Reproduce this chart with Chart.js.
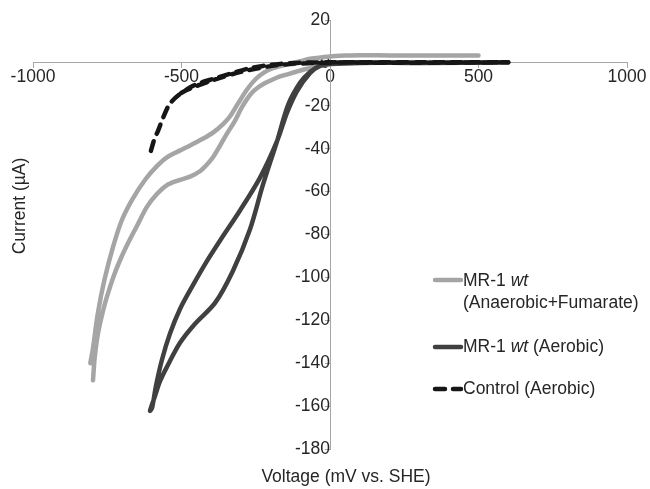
<!DOCTYPE html>
<html>
<head>
<meta charset="utf-8">
<script src="https://cdn.jsdelivr.net/npm/chart.js@4"></script>
<style>
  html, body { margin: 0; padding: 0; background: #fff; }
  canvas { display: block; }
</style>
</head>
<body>
<canvas id="chart" width="650" height="489"></canvas>
<script>
// MR-1 wt (Anaerobic+Fumarate): reduction branch, then (after a gap) return branch
const fumarateForwardV = [-798, -792, -781, -765, -751, -730, -707, -680, -650, -616, -582, -549, -515, -471, -438, -415, -394, -370, -347, -320, -300, -280, -260, -246, -220, -202, -168, -135, -91, -50, -10, 50, 100, 300, 480];
const fumarateForwardI = [-148, -137, -126, -116, -109, -100, -92, -84, -76, -67, -61, -57, -55, -53, -50.5, -47.5, -44, -38.5, -33, -27, -21.5, -17, -13.5, -11.8, -9.5, -8.3, -6.3, -5, -3.2, -2, -0.8, -0.1, 0.1, 0.2, 0.2];
const fumarateReturnV = [500, 400, 300, 200, 100, 50, 0, -67, -100, -135, -160, -192, -220, -250, -280, -310, -337, -360, -394, -430, -471, -500, -549, -582, -620, -663, -700, -731, -760, -782, -798, -807];
const fumarateReturnI = [3.5, 3.5, 3.5, 3.5, 3.6, 3.4, 3.0, 1.9, 0.8, -0.3, -1.2, -2.5, -4.3, -7.5, -12.5, -19, -25, -28.5, -32.5, -35.5, -38.5, -40.5, -44, -48, -54, -63, -73, -86, -101.5, -117, -133, -140];

// MR-1 wt (Aerobic): from +600 down the inner branch to the tip, back up the outer branch
const aerobicV = [600, 300, 17, -34, -67, -101, -141, -178, -226, -269, -327, -387, -455, -505, -549, -572, -589, -606, -599, -586, -566, -539, -505, -461, -418, -370, -303, -236, -178, -145, -111, -67, -34, 0, 100, 300, 600];
const aerobicI = [0.2, 0, 0, -1.4, -4.2, -9.3, -19.6, -36.4, -56.9, -77.4, -97, -111.9, -121.7, -130.5, -141.7, -148.3, -155.2, -162.2, -160.8, -150.6, -138.5, -126.3, -114.7, -103.5, -93.2, -82.8, -68.8, -53.6, -36.4, -23.3, -13.1, -4.7, -1.4, -0.5, 0, 0, 0.2];

// Control (Aerobic)
const controlV = [-603, -599, -590, -579, -562, -539, -505, -461, -430, -394, -337, -280, -226, -168, -111, -50, 0, 100, 200, 300, 400, 500, 600, 400, 200, 0, -111, -200, -300, -400, -480, -520];
const controlI = [-41, -39, -35, -31.7, -25.6, -19, -14.5, -10.7, -9, -7.5, -5.1, -2.8, -1.4, -0.5, 0, 0.2, 0.3, 0.3, 0.3, 0.3, 0.3, 0.3, 0.3, 0.1, 0.1, 0.1, -0.4, -1.5, -4.2, -8.3, -12.5, -15.5];

const xTicks = [-1000, -500, 0, 500, 1000];
const yTicks = [20, 0, -20, -40, -60, -80, -100, -120, -140, -160, -180];

const seriesNames = ["MR-1 wt (Anaerobic+Fumarate)", "MR-1 wt (Aerobic)", "Control (Aerobic)"];
const seriesColors = ["#a5a5a5", "#404040", "#161616"];

const fontFamily = '"Liberation Sans", Arial, sans-serif';
const fontSize = 17.5;
const textColor = "#262626";
const axisColor = "#a6a6a6";

const toPoints = (vs, is) => vs.map((v, i) => ({ x: v, y: is[i] }));

// 往路と復路の間で線を切る
const fumaratePoints = toPoints(fumarateForwardV, fumarateForwardI)
  .concat([{ x: 490, y: null }])
  .concat(toPoints(fumarateReturnV, fumarateReturnI));

const lineStyle = {
  showLine: true,
  pointRadius: 0,
  borderWidth: 4.5,
  tension: 0.3,
  borderCapStyle: "round",
  borderJoinStyle: "round",
  fill: false,
  spanGaps: false,
};

const labelsPlugin = {
  id: "labels",
  afterDraw(chart) {
    const ctx = chart.ctx;
    ctx.save();
    ctx.fillStyle = textColor;
    ctx.font = `${fontSize}px ${fontFamily}`;
    ctx.textBaseline = "middle";

    // axis titles
    ctx.textAlign = "center";
    ctx.fillText("Voltage (mV vs. SHE)", 346, 477);
    ctx.save();
    ctx.translate(20, 206);
    ctx.rotate(-Math.PI / 2);
    ctx.fillText("Current (\u00b5A)", 0, 0);
    ctx.restore();

    // legend
    ctx.textAlign = "left";
    const drawRich = (parts, x, y) => {
      parts.forEach(([text, italic]) => {
        ctx.font = `${italic ? "italic " : ""}${fontSize}px ${fontFamily}`;
        ctx.fillText(text, x, y);
        x += ctx.measureText(text).width;
      });
    };
    const sample = (y, color, dash) => {
      ctx.save();
      ctx.strokeStyle = color;
      ctx.lineWidth = 4.5;
      ctx.lineCap = "round";
      ctx.setLineDash(dash);
      ctx.beginPath();
      ctx.moveTo(435, y);
      ctx.lineTo(461, y);
      ctx.stroke();
      ctx.restore();
    };

    sample(280, seriesColors[0], []);
    drawRich([["MR-1 ", false], ["wt", true]], 463, 281);
    drawRich([["(Anaerobic+Fumarate)", false]], 463, 303);

    sample(347, seriesColors[1], []);
    drawRich([["MR-1 ", false], ["wt", true], [" (Aerobic)", false]], 463, 347);

    sample(389, seriesColors[2], [10, 8]);
    drawRich([["Control (Aerobic)", false]], 463, 389);

    ctx.restore();
  },
};

const tickFormat = value => String(value);

new Chart(document.getElementById("chart"), {
  type: "scatter",
  data: {
    datasets: [
      { ...lineStyle, label: seriesNames[0], data: fumaratePoints, borderColor: seriesColors[0], order: 3 },
      { ...lineStyle, label: seriesNames[1], data: toPoints(aerobicV, aerobicI), borderColor: seriesColors[1], order: 2 },
      { ...lineStyle, label: seriesNames[2], data: toPoints(controlV, controlI), borderColor: seriesColors[2], borderDash: [10, 8], order: 1 },
    ],
  },
  options: {
    responsive: false,
    animation: false,
    layout: { padding: { left: 33, right: 23, top: 20, bottom: 40 } },
    scales: {
      x: {
        type: "linear",
        position: { y: 0 },
        min: xTicks[0],
        max: xTicks[xTicks.length - 1],
        afterBuildTicks: scale => { scale.ticks = xTicks.map(v => ({ value: v })); },
        grid: { drawOnChartArea: false, color: axisColor, tickLength: 5 },
        border: { color: axisColor, width: 1 },
        ticks: {
          callback: tickFormat,
          autoSkip: false,
          maxRotation: 0,
          padding: -1,
          color: textColor,
          font: { family: fontFamily, size: fontSize },
        },
      },
      y: {
        type: "linear",
        position: { x: 0 },
        min: yTicks[yTicks.length - 1],
        max: yTicks[0],
        afterBuildTicks: scale => { scale.ticks = yTicks.slice().reverse().map(v => ({ value: v })); },
        grid: { drawOnChartArea: false, color: axisColor, tickLength: 5 },
        border: { color: axisColor, width: 1 },
        ticks: {
          callback: tickFormat,
          autoSkip: false,
          padding: 4,
          color: textColor,
          font: { family: fontFamily, size: fontSize },
        },
      },
    },
    plugins: {
      legend: { display: false },
      tooltip: { enabled: false },
    },
  },
  plugins: [labelsPlugin],
});
</script>
</body>
</html>
